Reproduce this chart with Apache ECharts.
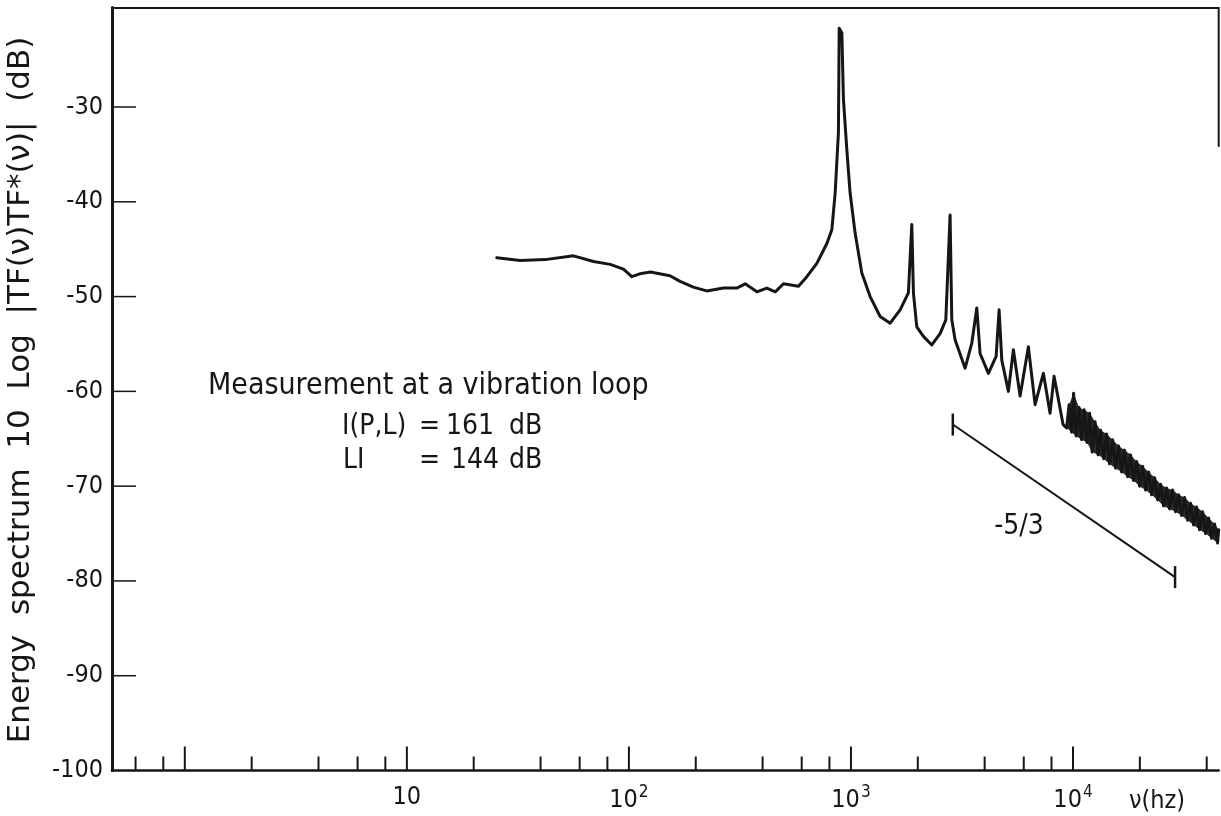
<!DOCTYPE html>
<html>
<head>
<meta charset="utf-8">
<script src="https://cdn.jsdelivr.net/npm/echarts@6/dist/echarts.min.js"></script>
<style>
  html, body { margin: 0; padding: 0; background: #ffffff; }
  #chart { width: 1221px; height: 816px; }
</style>
</head>
<body>
<div id="chart"></div>
<script>
// Axis extents
const xAxisMin = 0.47;
const xAxisMax = 45300;
const yAxisMin = -100;
const yAxisMax = -19.5;

// Tick positions
const yTickValues = [-90, -80, -70, -60, -50, -40, -30];
const yLabelValues = [-100, -90, -80, -70, -60, -50, -40, -30];
const xTickValues = [0.6, 0.8, 1, 2, 4, 6, 8, 10, 20, 40, 60, 80, 100, 200, 400, 600, 800,
  1000, 2000, 4000, 6000, 8000, 10000, 20000, 40000];
const xMajorTicks = [1, 10, 100, 1000, 10000];
const xLabelValues = [10, 100, 1000, 10000];
const xLabelExponent = ['', '2', '3', '4'];

// Energy spectrum up to 9 kHz: frequency in Hz, level in dB
const spectrumFreq = [
  25.4, 32.4, 42.0, 56.3, 69.3, 82.4, 94.5, 103, 112, 125, 153, 170, 195, 224, 267, 306, 334,
  377, 418, 456, 497, 580, 633, 702, 779, 820, 849, 878, 885, 910, 925, 958, 991, 1044, 1119,
  1220, 1353, 1501, 1665, 1814, 1879, 1911, 1979, 2120, 2312, 2520, 2674, 2795, 2845, 2944,
  3266, 3501, 3687, 3815, 4158, 4505, 4647, 4778, 5117, 5389, 5777, 6295, 6748, 7354, 7882,
  8216, 9020
];
const spectrumDb = [
  -45.9, -46.2, -46.1, -45.7, -46.3, -46.6, -47.1, -47.9, -47.6, -47.4, -47.8, -48.4, -49.0,
  -49.4, -49.1, -49.1, -48.65, -49.5, -49.1, -49.5, -48.65, -48.9, -47.9, -46.5, -44.4, -42.95,
  -39.05, -32.7, -21.7, -22.2, -29.2, -34.5, -39.05, -43.3, -47.5, -50.0, -52.1, -52.8, -51.4,
  -49.6, -42.4, -49.6, -53.2, -54.2, -55.1, -53.9, -52.45, -41.4, -52.45, -54.55, -57.55, -54.9,
  -51.2, -56.0, -58.1, -56.3, -51.4, -56.7, -60.0, -55.6, -60.5, -55.3, -61.4, -58.1, -62.3,
  -58.4, -63.5
];

// High-frequency tail: alternating troughs and crests of the fast oscillation
const tailFreq = [
  9360, 9600, 9850, 10060, 10330, 10650, 10930, 11220, 11570, 11880, 12190, 12570, 12970,
  13310, 13730, 14170, 14610, 15080, 15550, 16040, 16550, 17070, 17610, 18170, 18740, 19340,
  19950, 20580, 21230, 21900, 22590, 23300, 24040, 24800, 25580, 26390, 27230, 28090, 28970,
  29890, 30830, 31810, 32810, 33850, 34920, 36020, 37160, 38330, 39540, 40790, 42080, 43410,
  44780, 45300
];
const tailDb = [
  -63.85, -61.4, -64.3, -60.2, -64.7, -61.7, -65.1, -61.95, -65.4, -62.3, -66.4, -63.2, -66.7,
  -64.1, -67.1, -64.5, -67.65, -65.1, -68.1, -65.75, -68.5, -66.2, -69.0, -66.7, -69.4, -67.4,
  -70.0, -67.9, -70.4, -68.5, -70.9, -69.1, -71.45, -69.8, -72.1, -70.2, -72.4, -70.4, -72.7,
  -70.9, -73.1, -71.2, -73.6, -71.8, -74.1, -72.2, -74.6, -72.7, -75.0, -73.35, -75.5, -74.0,
  -76.0, -74.6
];

// Reference slope of -5/3
const slopeFreq = [2875, 28810];
const slopeDb = [-63.5, -79.6];

// Right-hand frame segment
const rightFrameDb = [-19.5, -34.2];

const INK = '#161616';
const FONT = '"DejaVu Sans Condensed", "DejaVu Sans", sans-serif';
const FONT_WIDE = '"DejaVu Sans", sans-serif';

const chart = echarts.init(document.getElementById('chart'), null, { renderer: 'canvas' });

const spectrumData = spectrumFreq.map((f, i) => [f, spectrumDb[i]])
  .concat(tailFreq.map((f, i) => [f, tailDb[i]]));
const slopeData = slopeFreq.map((f, i) => [f, slopeDb[i]]);
const rightFrameData = rightFrameDb.map(v => [xAxisMax, v]);

function xLabel(v) {
  const lg = Math.log10(v);
  const e = Math.round(lg);
  if (Math.abs(lg - e) > 1e-6) return '';
  const i = xLabelValues.indexOf(Math.pow(10, e));
  if (i < 0) return '';
  return xLabelExponent[i] ? '{b|10}{s|' + xLabelExponent[i] + '}' : '{b|10}';
}

chart.setOption({
  animation: false,
  backgroundColor: '#ffffff',
  grid: {
    left: 112, right: 2.3, top: 7.5, bottom: 45.5,
    containLabel: false, outerBoundsMode: 'none'
  },
  xAxis: [{
    type: 'log', logBase: 10, min: xAxisMin, max: xAxisMax,
    position: 'bottom',
    axisLine: { show: true, onZero: false, lineStyle: { color: INK, width: 2.5 } },
    axisTick: { show: false },
    splitLine: { show: false },
    minorTick: { show: false },
    axisLabel: {
      show: true, margin: 14, showMinLabel: false, showMaxLabel: false,
      formatter: xLabel,
      rich: {
        b: { fontFamily: FONT, fontSize: 25, color: INK },
        s: { fontFamily: FONT, fontSize: 17, color: INK, padding: [0, 0, 14, 1] }
      }
    }
  }, {
    type: 'log', logBase: 10, min: xAxisMin, max: xAxisMax,
    position: 'top',
    axisLine: { show: true, onZero: false, lineStyle: { color: INK, width: 2 } },
    axisTick: { show: false }, axisLabel: { show: false }, splitLine: { show: false }
  }],
  yAxis: {
    type: 'value', min: yAxisMin, max: yAxisMax, interval: 10,
    axisLine: { show: true, onZero: false, lineStyle: { color: INK, width: 3 } },
    axisTick: { show: false },
    splitLine: { show: false },
    axisLabel: {
      margin: 9, fontFamily: FONT, fontSize: 25, color: INK,
      formatter: v => (yLabelValues.indexOf(v) >= 0 ? String(v) : '')
    }
  },
  graphic: [
    {
      type: 'text', x: 21, y: 390, rotation: Math.PI / 2,
      style: {
        text: 'Energy  spectrum  10  Log  |TF(ν)TF*(ν)|  (dB)',
        font: '31px ' + FONT_WIDE, fill: INK, align: 'center', verticalAlign: 'middle'
      }
    },
    {
      type: 'text', x: 1157, y: 801,
      style: { text: 'ν(hz)', font: '25px ' + FONT, fill: INK, align: 'center', verticalAlign: 'middle' }
    },
    {
      type: 'text', x: 208, y: 386,
      style: { text: 'Measurement at a vibration loop', font: '30px ' + FONT, fill: INK, align: 'left', verticalAlign: 'middle' }
    },
    { type: 'text', x: 342, y: 427, style: { text: 'I(P,L)', font: '28px ' + FONT, fill: INK, verticalAlign: 'middle' } },
    { type: 'text', x: 419, y: 427, style: { text: '=', font: '28px ' + FONT, fill: INK, verticalAlign: 'middle' } },
    { type: 'text', x: 446, y: 427, style: { text: '161', font: '28px ' + FONT, fill: INK, verticalAlign: 'middle' } },
    { type: 'text', x: 509, y: 427, style: { text: 'dB', font: '28px ' + FONT, fill: INK, verticalAlign: 'middle' } },
    { type: 'text', x: 343, y: 461, style: { text: 'LI', font: '28px ' + FONT, fill: INK, verticalAlign: 'middle' } },
    { type: 'text', x: 419, y: 461, style: { text: '=', font: '28px ' + FONT, fill: INK, verticalAlign: 'middle' } },
    { type: 'text', x: 451, y: 461, style: { text: '144', font: '28px ' + FONT, fill: INK, verticalAlign: 'middle' } },
    { type: 'text', x: 509, y: 461, style: { text: 'dB', font: '28px ' + FONT, fill: INK, verticalAlign: 'middle' } },
    {
      type: 'text', x: 1019, y: 527,
      style: { text: '-5/3', font: '28px ' + FONT, fill: INK, align: 'center', verticalAlign: 'middle' }
    }
  ],
  series: [
    {
      // dense envelope of the fast oscillation, between its troughs and crests
      name: 'tailBand', type: 'custom',
      data: [[tailFreq[0], tailDb[0]]],
      z: 4,
      renderItem: (params, api) => {
        const crests = [];
        const troughs = [];
        tailFreq.forEach((f, i) => {
          const p = api.coord([f, tailDb[i]]);
          (i % 2 ? crests : troughs).push(p);
        });
        return {
          type: 'polygon',
          shape: { points: crests.concat(troughs.reverse()) },
          style: { fill: '#2b2b2b' }
        };
      }
    },
    {
      name: 'spectrum', type: 'line', data: spectrumData,
      showSymbol: false, symbol: 'none', smooth: false,
      lineStyle: { color: INK, width: 3, join: 'round', cap: 'round' },
      z: 5
    },
    {
      name: 'slope', type: 'line', data: slopeData,
      symbol: 'rect', symbolSize: [2.5, 22], showSymbol: true,
      itemStyle: { color: INK },
      lineStyle: { color: INK, width: 2 },
      z: 4
    },
    {
      name: 'frame', type: 'line', data: rightFrameData, symbol: 'none', clip: false,
      lineStyle: { color: INK, width: 2 }
    },
    {
      name: 'xticks', type: 'custom', xAxisIndex: 0,
      data: xTickValues.map(v => [v, yAxisMin]),
      clip: false,
      renderItem: (params, api) => {
        const v = api.value(0);
        const p = api.coord([v, api.value(1)]);
        const len = xMajorTicks.indexOf(v) >= 0 ? 24 : 14;
        return {
          type: 'line',
          shape: { x1: p[0], y1: p[1], x2: p[0], y2: p[1] - len },
          style: { stroke: INK, lineWidth: 2 }
        };
      }
    },
    {
      name: 'yticks', type: 'custom',
      data: yTickValues.map(v => [xAxisMin, v]),
      clip: false,
      renderItem: (params, api) => {
        const p = api.coord([api.value(0), api.value(1)]);
        return {
          type: 'line',
          shape: { x1: p[0], y1: p[1], x2: p[0] + 24, y2: p[1] },
          style: { stroke: INK, lineWidth: 1.5 }
        };
      }
    }
  ]
});
</script>
</body>
</html>
